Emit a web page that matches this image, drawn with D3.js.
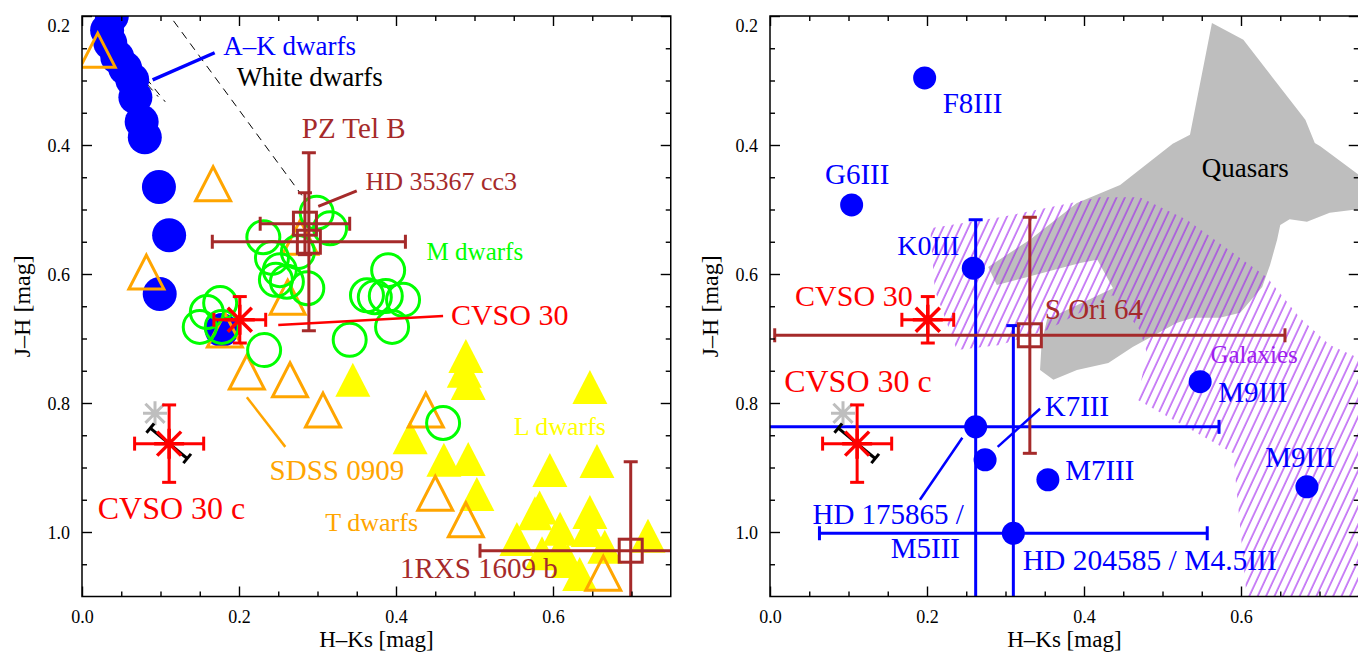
<!DOCTYPE html>
<html><head><meta charset="utf-8">
<script src="https://cdn.jsdelivr.net/npm/d3@7"></script>
<style>body{margin:0;background:#fff}svg{display:block}</style>
</head><body><svg id="c" width="1358" height="652" font-family="'Liberation Serif', 'DejaVu Serif', serif"></svg>
<script>
// ---------- tick labels ----------
const xTickValues = [0.0, 0.2, 0.4, 0.6];
const xTickLabels = ["0.0", "0.2", "0.4", "0.6"];
const yTickValues = [0.2, 0.4, 0.6, 0.8, 1.0];
const yTickLabels = ["0.2", "0.4", "0.6", "0.8", "1.0"];
const xMinor = [0.05,0.1,0.15,0.25,0.3,0.35,0.45,0.5,0.55,0.65,0.7];
const yMinor = [0.25,0.3,0.35,0.45,0.5,0.55,0.65,0.7,0.75,0.85,0.9,0.95,1.05];

// ---------- left panel data (H-Ks, J-H) ----------
const akDwarfs = [[0.036,0.183],[0.038,0.200],[0.032,0.222],[0.036,0.242],[0.045,0.264],[0.055,0.281],[0.064,0.299],[0.068,0.326],[0.076,0.364],[0.080,0.388],[0.098,0.465],[0.111,0.540],[0.099,0.631],[0.178,0.687]];
const tDwarfs = [[0.020,0.253],[0.167,0.460],[0.082,0.597],[0.278,0.543],[0.262,0.636],[0.182,0.687],[0.210,0.752],[0.265,0.764],[0.307,0.811],[0.438,0.811],[0.450,0.940],[0.489,0.981],[0.664,1.064]];
const mDwarfs = [[0.299,0.505],[0.316,0.529],[0.231,0.543],[0.242,0.575],[0.252,0.594],[0.247,0.609],[0.261,0.612],[0.287,0.622],[0.275,0.566],[0.390,0.594],[0.363,0.633],[0.373,0.636],[0.387,0.634],[0.409,0.640],[0.395,0.682],[0.341,0.702],[0.176,0.645],[0.150,0.682],[0.178,0.682],[0.232,0.718],[0.159,0.659],[0.460,0.831]];
const lDwarfs = [[0.345,0.764],[0.489,0.727],[0.487,0.750],[0.492,0.769],[0.647,0.775],[0.418,0.853],[0.461,0.888],[0.492,0.887],[0.503,0.941],[0.596,0.904],[0.656,0.890],[0.577,0.971],[0.583,0.962],[0.554,1.011],[0.609,0.995],[0.647,0.969],[0.645,0.997],[0.586,1.033],[0.609,1.028],[0.619,1.045],[0.721,1.006],[0.634,1.065],[0.666,1.023]];
const whiteDwarfTracks = [[[0.014,0.195],[0.106,0.333]],[[0.024,0.225],[0.097,0.325]],[[0.106,0.190],[0.280,0.478]]];

// companions with errors: [x, y, xErr, yErr]
const pzTelB = [0.289, 0.550, 0.123, 0.138];
const hd35367 = [0.284, 0.522, 0.057, 0.048];
const rxs1609 = [0.699, 1.029, 0.192, 0.138];
const sOri64 = [0.331, 0.695, 0.325, 0.183];
const cvso30 = [0.201, 0.671, 0.033, 0.036];
const cvso30c = [0.111, 0.863, 0.044, 0.060];
const cvso30cAlt = [0.093, 0.816];
const cvso30cVector = [[0.087, 0.839], [0.134, 0.886]];

// ---------- right panel: giants ----------
const giantNames = ["F8III","G6III","K0III","HD 175865","K7III","HD 204585","M7III","M9III","M9III"];
const giantX = [0.197,0.104,0.259,0.262,0.274,0.310,0.354,0.548,0.684];
const giantY = [0.296,0.493,0.591,0.837,0.888,1.002,0.919,0.767,0.930];
const giantXErr = [0,0,0,0.310,0,0.247,0,0,0];
const giantYErr = [0,0,0,0.321,0,0.322,0,0,0];

// loci
const quasarLocus = [[0.278,0.589],[0.331,0.547],[0.391,0.490],[0.446,0.462],[0.513,0.398],[0.535,0.384],[0.563,0.211],[0.603,0.237],[0.682,0.361],[0.694,0.397],[0.701,0.402],[0.760,0.455],[0.760,0.498],[0.713,0.505],[0.684,0.519],[0.662,0.515],[0.650,0.524],[0.646,0.547],[0.637,0.586],[0.627,0.620],[0.599,0.660],[0.573,0.668],[0.539,0.668],[0.518,0.676],[0.462,0.713],[0.431,0.738],[0.391,0.749],[0.361,0.764],[0.344,0.749],[0.346,0.707],[0.353,0.670],[0.437,0.622],[0.417,0.578],[0.395,0.583],[0.289,0.617]];
const galaxyLocus = [[0.204,0.529],[0.293,0.512],[0.420,0.481],[0.471,0.481],[0.531,0.516],[0.633,0.605],[0.675,0.668],[0.713,0.710],[0.760,0.736],[0.760,1.110],[0.608,1.110],[0.590,0.878],[0.468,0.795],[0.480,0.722],[0.471,0.687],[0.437,0.633],[0.353,0.687],[0.293,0.710],[0.238,0.718],[0.210,0.625]];

// ---------- drawing ----------
const FONT = "'Liberation Serif', 'DejaVu Serif', serif";
const svg = d3.select("#c");
const COL = {blue:"#0000ff", orange:"#ffa500", green:"#00ff00", yellow:"#ffff00", brown:"#a52a2a", red:"#ff0000", grey:"#bebebe", purple:"#a020f0"};
const defs = svg.append("defs");
const pat = defs.append("pattern").attr("id","hatch").attr("patternUnits","userSpaceOnUse")
  .attr("width",7.6).attr("height",30).attr("patternTransform","rotate(25)");
pat.append("line").attr("x1",1).attr("x2",1).attr("y1",0).attr("y2",30).attr("stroke",COL.purple).attr("stroke-width",1.1);

function makePanel(id, left){
  const x = d3.scaleLinear().domain([0,0.75]).range([left, left+588.75]);
  const y = d3.scaleLinear().domain([0.2,1.1]).range([16, 596.5]);
  const g = svg.append("g");
  defs.append("clipPath").attr("id","clip"+id).append("rect")
    .attr("x",left).attr("y",16).attr("width",588.75).attr("height",580.5);
  const plot = g.append("g").attr("clip-path",`url(#clip${id})`);
  return {x, y, g, plot};
}

function axes(P){
  const {x,y,g} = P;
  const [x0,x1] = x.range(), [y0,y1] = y.range();
  const style = s => { s.select(".domain").remove(); s.attr("font-family",FONT).attr("font-size",18);
    s.selectAll("line").attr("stroke","#000").attr("stroke-width",1.4); s.selectAll("text").attr("fill","#000"); };
  g.append("g").attr("transform",`translate(0,${y1})`).call(d3.axisBottom(x).tickValues(xTickValues).tickSize(-10).tickFormat((d,i)=>xTickLabels[i])).call(style)
    .selectAll("text").attr("y",26.5).attr("dy",0);
  g.append("g").attr("transform",`translate(0,${y1})`).call(d3.axisBottom(x).tickValues(xMinor).tickSize(-5).tickFormat("")).call(style);
  g.append("g").attr("transform",`translate(0,${y0})`).call(d3.axisTop(x).tickValues(xTickValues).tickSize(-10).tickFormat("")).call(style);
  g.append("g").attr("transform",`translate(0,${y0})`).call(d3.axisTop(x).tickValues(xMinor).tickSize(-5).tickFormat("")).call(style);
  g.append("g").attr("transform",`translate(${x0},0)`).call(d3.axisLeft(y).tickValues(yTickValues).tickSize(-10).tickFormat((d,i)=>yTickLabels[i])).call(style)
    .selectAll("text").attr("x",-12).attr("dy",(d,i)=> i===0 ? 15 : 6);
  g.append("g").attr("transform",`translate(${x0},0)`).call(d3.axisLeft(y).tickValues(yMinor).tickSize(-5).tickFormat("")).call(style);
  g.append("g").attr("transform",`translate(${x1},0)`).call(d3.axisRight(y).tickValues(yTickValues).tickSize(-10).tickFormat("")).call(style);
  g.append("g").attr("transform",`translate(${x1},0)`).call(d3.axisRight(y).tickValues(yMinor).tickSize(-5).tickFormat("")).call(style);
  g.append("rect").attr("x",x0).attr("y",y0).attr("width",x1-x0).attr("height",y1-y0)
    .attr("fill","none").attr("stroke","#000").attr("stroke-width",1.5);
  g.append("text").attr("x",(x0+x1)/2).attr("y",647).attr("text-anchor","middle").attr("font-family",FONT).attr("font-size",23).text("H–Ks [mag]");
  g.append("text").attr("transform",`translate(${x0-52},${(y0+y1)/2}) rotate(-90)`).attr("text-anchor","middle").attr("font-family",FONT).attr("font-size",24).text("J–H [mag]");
}

function errBar(sel, P, d, color, sw, cap){
  const {x,y} = P; const cx = x(d[0]), cy = y(d[1]);
  const gg = sel.append("g").attr("stroke",color).attr("stroke-width",sw).attr("fill","none");
  if (d[2]) { const a = x(d[0]-d[2]), b = x(d[0]+d[2]);
    gg.append("line").attr("x1",a).attr("x2",b).attr("y1",cy).attr("y2",cy);
    gg.append("line").attr("x1",a).attr("x2",a).attr("y1",cy-cap).attr("y2",cy+cap);
    gg.append("line").attr("x1",b).attr("x2",b).attr("y1",cy-cap).attr("y2",cy+cap); }
  if (d[3]) { const a = y(d[1]-d[3]), b = y(d[1]+d[3]);
    gg.append("line").attr("y1",a).attr("y2",b).attr("x1",cx).attr("x2",cx);
    gg.append("line").attr("y1",a).attr("y2",a).attr("x1",cx-cap).attr("x2",cx+cap);
    gg.append("line").attr("y1",b).attr("y2",b).attr("x1",cx-cap).attr("x2",cx+cap); }
}
function square(sel, P, d, color){
  errBar(sel, P, d, color, 3, 7);
  sel.append("rect").attr("x",P.x(d[0])-11.5).attr("y",P.y(d[1])-11.5).attr("width",23).attr("height",23)
    .attr("fill","none").attr("stroke",color).attr("stroke-width",3);
}
function asterisk(sel, P, d, color, r, sw){
  const a = r*0.8;
  sel.append("path").attr("transform",`translate(${P.x(d[0])},${P.y(d[1])})`)
    .attr("d",`M${-r},0L${r},0M0,${-r}L0,${r}M${-a},${-a}L${a},${a}M${-a},${a}L${a},${-a}`)
    .attr("stroke",color).attr("stroke-width",sw).attr("fill","none");
}
function cvsoGroup(sel, P){
  asterisk(sel, P, cvso30cAlt, COL.grey, 12, 3);
  const [p,q] = cvso30cVector; const x1=P.x(p[0]),y1=P.y(p[1]),x2=P.x(q[0]),y2=P.y(q[1]);
  const L = Math.hypot(x2-x1,y2-y1), nx=-(y2-y1)/L*6, ny=(x2-x1)/L*6;
  const gv = sel.append("g").attr("stroke","#000").attr("stroke-width",3);
  gv.append("line").attr("x1",x1).attr("y1",y1).attr("x2",x2).attr("y2",y2);
  gv.append("line").attr("x1",x1-nx).attr("y1",y1-ny).attr("x2",x1+nx).attr("y2",y1+ny);
  gv.append("line").attr("x1",x2-nx).attr("y1",y2-ny).attr("x2",x2+nx).attr("y2",y2+ny);
  errBar(sel, P, cvso30c, COL.red, 3, 7);
  asterisk(sel, P, cvso30c, COL.red, 15, 3.5);
  errBar(sel, P, cvso30, COL.red, 3, 7);
  asterisk(sel, P, cvso30, COL.red, 15, 3.5);
}
const tri = "M0,-17L17.5,17L-17.5,17Z";
function label(sel, P, t, pos, color, size, anchor){
  sel.append("text").attr("x",P.x(pos[0])).attr("y",P.y(pos[1])).attr("fill",color).attr("font-family",FONT)
    .attr("font-size",size).attr("text-anchor",anchor||"start").text(t);
}
function pointer(sel, P, a, b, color, sw){
  sel.append("line").attr("x1",P.x(a[0])).attr("y1",P.y(a[1])).attr("x2",P.x(b[0])).attr("y2",P.y(b[1]))
    .attr("stroke",color).attr("stroke-width",sw);
}

// ---- LEFT PANEL ----
const L = makePanel("L", 82);
const lp = L.plot;
lp.selectAll(".wd").data(whiteDwarfTracks).join("path").attr("d",d3.line().x(d=>L.x(d[0])).y(d=>L.y(d[1])))
  .attr("stroke","#000").attr("stroke-width",1).attr("stroke-dasharray","8,6").attr("fill","none");
lp.selectAll(".ak").data(akDwarfs).join("circle").attr("cx",d=>L.x(d[0])).attr("cy",d=>L.y(d[1])).attr("r",17).attr("fill",COL.blue);
lp.selectAll(".ld").data(lDwarfs).join("path").attr("transform",d=>`translate(${L.x(d[0])},${L.y(d[1])})`).attr("d",tri).attr("fill",COL.yellow);
lp.selectAll(".td").data(tDwarfs).join("path").attr("transform",d=>`translate(${L.x(d[0])},${L.y(d[1])})`).attr("d",tri)
  .attr("fill","none").attr("stroke",COL.orange).attr("stroke-width",3);
lp.selectAll(".md").data(mDwarfs).join("circle").attr("cx",d=>L.x(d[0])).attr("cy",d=>L.y(d[1])).attr("r",16.5)
  .attr("fill","none").attr("stroke",COL.green).attr("stroke-width",3);
square(lp, L, pzTelB, COL.brown);
square(lp, L, hd35367, COL.brown);
square(lp, L, rxs1609, COL.brown);
cvsoGroup(lp, L);
pointer(L.g, L, [0.090,0.299], [0.169,0.257], COL.blue, 3.5);
pointer(L.g, L, [0.301,0.495], [0.350,0.471], COL.brown, 3);
pointer(L.g, L, [0.250,0.679], [0.460,0.665], COL.red, 2.5);
pointer(L.g, L, [0.210,0.791], [0.259,0.868], COL.orange, 2.5);
label(L.g, L, "A–K dwarfs", [0.180,0.260], COL.blue, 27);
label(L.g, L, "White dwarfs", [0.197,0.309], "#000", 27);
label(L.g, L, "PZ Tel B", [0.280,0.389], COL.brown, 29);
label(L.g, L, "HD 35367 cc3", [0.361,0.470], COL.brown, 26);
label(L.g, L, "M dwarfs", [0.439,0.578], COL.green, 25);
label(L.g, L, "CVSO 30", [0.470,0.679], COL.red, 30);
label(L.g, L, "SDSS 0909", [0.239,0.919], COL.orange, 29);
label(L.g, L, "T dwarfs", [0.310,0.998], COL.orange, 26);
label(L.g, L, "L dwarfs", [0.550,0.850], COL.yellow, 26);
label(L.g, L, "CVSO 30 c", [0.020,0.980], COL.red, 32);
label(L.g, L, "1RXS 1609 b", [0.405,1.071], COL.brown, 29);
axes(L);

// ---- RIGHT PANEL ----
const R = makePanel("R", 770);
const rp = R.plot;
const poly = d3.line().x(d=>R.x(d[0])).y(d=>R.y(d[1])).curve(d3.curveLinearClosed);
rp.append("path").attr("d",poly(quasarLocus)).attr("fill",COL.grey);
rp.append("path").attr("d",poly(galaxyLocus)).attr("fill","url(#hatch)");
const giants = giantX.map((v,i)=>[v, giantY[i], giantXErr[i], giantYErr[i]]);
giants.filter(d=>d[2]||d[3]).forEach(d=>errBar(rp, R, d, COL.blue, 3, 7));
square(rp, R, sOri64, COL.brown);
rp.selectAll(".gi").data(giants).join("circle").attr("cx",d=>R.x(d[0])).attr("cy",d=>R.y(d[1])).attr("r",11.5).attr("fill",COL.blue);
cvsoGroup(rp, R);
pointer(R.g, R, [0.290,0.868], [0.344,0.809], COL.blue, 2.5);
pointer(R.g, R, [0.191,0.950], [0.245,0.854], COL.blue, 2.5);
label(R.g, R, "F8III", [0.220,0.350], COL.blue, 29);
label(R.g, R, "G6III", [0.070,0.460], COL.blue, 29);
label(R.g, R, "K0III", [0.162,0.571], COL.blue, 28);
label(R.g, R, "CVSO 30", [0.032,0.650], COL.red, 30);
label(R.g, R, "S Ori 64", [0.350,0.670], COL.brown, 29);
label(R.g, R, "Galaxies", [0.561,0.738], COL.purple, 25);
label(R.g, R, "Quasars", [0.550,0.450], "#000", 27);
label(R.g, R, "CVSO 30 c", [0.018,0.783], COL.red, 32);
label(R.g, R, "M9III", [0.571,0.798], COL.blue, 29);
label(R.g, R, "K7III", [0.350,0.820], COL.blue, 29);
label(R.g, R, "M7III", [0.376,0.919], COL.blue, 29);
label(R.g, R, "M9III", [0.631,0.899], COL.blue, 29);
label(R.g, R, "HD 175865 /", [0.247,0.988], COL.blue, 29, "end");
label(R.g, R, "M5III", [0.242,1.040], COL.blue, 29, "end");
label(R.g, R, "HD 204585 / M4.5III", [0.322,1.059], COL.blue, 29.5);
axes(R);
</script></body></html>
